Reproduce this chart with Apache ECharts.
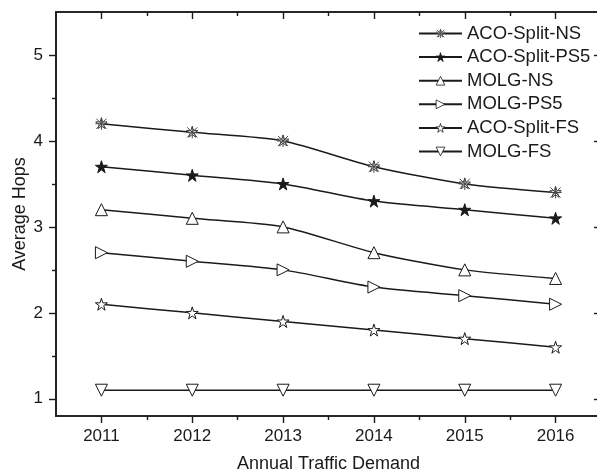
<!DOCTYPE html>
<html>
<head>
<meta charset="utf-8">
<script src="https://cdn.jsdelivr.net/npm/echarts@6/dist/echarts.min.js"></script>
<style>
  html, body { margin: 0; padding: 0; background: #fff; }
  #chart { width: 597px; height: 475px; }
</style>
</head>
<body>
<div id="chart"></div>
<script>
// Years on the x axis
const years = [2011, 2012, 2013, 2014, 2015, 2016];

// Average hop counts per scheme
const acoSplitNS  = [4.2, 4.1, 4.0, 3.7, 3.5, 3.4];
const acoSplitPS5 = [3.7, 3.6, 3.5, 3.3, 3.2, 3.1];
const molgNS      = [3.2, 3.1, 3.0, 2.7, 2.5, 2.4];
const molgPS5     = [2.7, 2.6, 2.5, 2.3, 2.2, 2.1];
const acoSplitFS  = [2.1, 2.0, 1.9, 1.8, 1.7, 1.6];
const molgFS      = [1.1, 1.1, 1.1, 1.1, 1.1, 1.1];

const seriesNames = ['ACO-Split-NS', 'ACO-Split-PS5', 'MOLG-NS', 'MOLG-PS5', 'ACO-Split-FS', 'MOLG-FS'];

// Tick positions
const xMajorTicks = [2011, 2012, 2013, 2014, 2015, 2016];
const xMinorTicks = [2011.5, 2012.5, 2013.5, 2014.5, 2015.5];
const yMajorTicks = [1, 2, 3, 4, 5];
const yMinorTicks = [1.5, 2.5, 3.5, 4.5];

// Marker shapes
const STAR = 'path://M50,0L61.2,34.6L97.6,34.5L68.1,55.9L79.4,90.5L50,69L20.6,90.5L31.9,55.9L2.4,34.5L38.8,34.6Z';
const ASTERISK = 'path://M50,0L61.2,34.6L97.6,34.5L68.1,55.9L79.4,90.5L50,69L20.6,90.5L31.9,55.9L2.4,34.5L38.8,34.6Z' +
  'M8,8L92,92M92,8L8,92M50,0L50,100M0,50L100,50';
const TRI_RIGHT = 'path://M0,0L10,5L0,10Z';
const TRI_DOWN = 'path://M0,0L10,0L5,9Z';

const FONT = 'Liberation Sans, Arial, sans-serif';
const INK = '#1a1a1a';

const chart = echarts.init(document.getElementById('chart'), null, { renderer: 'canvas' });

function xAxisDef(pos, ticks, len, inside, withLabels, name) {
  return {
    type: 'value', position: pos, min: 2010.5, max: 2016.5,
    axisLine: { show: true, onZero: false, lineStyle: { color: INK, width: 1.6 } },
    axisTick: { show: true, inside: inside, length: len, customValues: ticks, lineStyle: { color: INK, width: 1.4 } },
    axisLabel: withLabels ? {
      show: true, customValues: ticks, margin: 12, color: INK, fontSize: 17, fontFamily: FONT,
      formatter: v => String(v)
    } : { show: false },
    splitLine: { show: false },
    name: name || '', nameLocation: 'middle', nameGap: 39, nameMoveOverlap: false,
    nameTextStyle: { color: INK, fontSize: 18, fontFamily: FONT }
  };
}

function yAxisDef(pos, ticks, len, inside, withLabels, name) {
  return {
    type: 'value', position: pos, min: 0.8, max: 5.5,
    axisLine: { show: true, onZero: false, lineStyle: { color: INK, width: 1.6 } },
    axisTick: { show: true, inside: inside, length: len, customValues: ticks, lineStyle: { color: INK, width: 1.4 } },
    axisLabel: withLabels ? {
      show: true, customValues: ticks, margin: 13, color: INK, fontSize: 17, fontFamily: FONT,
      formatter: v => String(v)
    } : { show: false },
    splitLine: { show: false },
    name: name || '', nameLocation: 'middle', nameGap: 27, nameMoveOverlap: false,
    nameTextStyle: { color: INK, fontSize: 18, fontFamily: FONT }
  };
}

function makeSeries(name, values, symbol, fill, size, border) {
  return {
    name: name, type: 'line', xAxisIndex: 0, yAxisIndex: 0,
    data: years.map((yr, i) => [yr, values[i]]),
    smooth: 0.25,
    symbol: symbol, symbolSize: size,
    showSymbol: true,
    lineStyle: { color: INK, width: 1.5 },
    itemStyle: { color: fill, borderColor: border || INK, borderWidth: 1 },
    z: 3
  };
}

chart.setOption({
  animation: false,
  backgroundColor: '#fff',
  grid: { left: 56, top: 12, width: 545, height: 404, containLabel: false, outerBoundsMode: 'none' },
  xAxis: [
    xAxisDef('bottom', xMajorTicks, 7, false, true, 'Annual Traffic Demand'),
    xAxisDef('bottom', xMinorTicks, 4, false, false),
    xAxisDef('top', xMajorTicks, 7, true, false),
    xAxisDef('top', xMinorTicks, 4, true, false)
  ],
  yAxis: [
    yAxisDef('left', yMajorTicks, 7, false, true, 'Average Hops'),
    yAxisDef('left', yMinorTicks, 4, false, false),
    yAxisDef('right', yMajorTicks, 7, true, false),
    yAxisDef('right', yMinorTicks, 4, true, false)
  ],
  legend: {
    left: 418, top: 24, orient: 'vertical', padding: 0,
    itemWidth: 43, itemHeight: 11, itemGap: 4.6,
    itemStyle: { borderWidth: 0.8 },
    textStyle: { color: INK, fontSize: 18.5, fontFamily: FONT },
    data: seriesNames
  },
  series: [
    makeSeries(seriesNames[0], acoSplitNS, ASTERISK, '#fff', 12, '#444'),
    makeSeries(seriesNames[1], acoSplitPS5, STAR, INK, 12),
    makeSeries(seriesNames[2], molgNS, 'triangle', '#fff', 12),
    makeSeries(seriesNames[3], molgPS5, TRI_RIGHT, '#fff', 12),
    makeSeries(seriesNames[4], acoSplitFS, STAR, '#fff', 12),
    makeSeries(seriesNames[5], molgFS, TRI_DOWN, '#fff', 12)
  ]
});
</script>
</body>
</html>
